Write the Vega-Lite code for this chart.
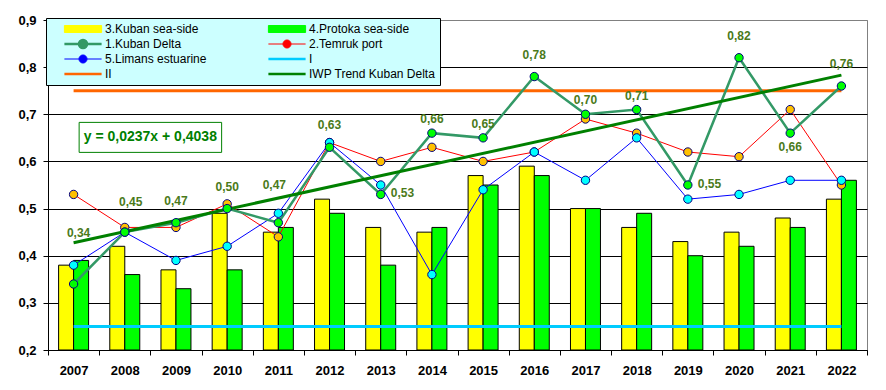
{
  "$schema": "https://vega.github.io/schema/vega-lite/v6.json",
  "width": 819,
  "height": 330,
  "autosize": {"type": "none"},
  "padding": {"left": 48, "top": 20, "right": 19, "bottom": 40},
  "background": "white",
  "config": {
    "font": "Liberation Sans",
    "locale": {"number": {"decimal": ",", "thousands": " ", "grouping": [3], "currency": ["", ""]}},
    "view": {"stroke": "#808080", "strokeWidth": 1}
  },
  "datasets": {
    "bars": [
      {"year": "2007", "series": "3.Kuban sea-side", "value": 0.38},
      {"year": "2008", "series": "3.Kuban sea-side", "value": 0.42},
      {"year": "2009", "series": "3.Kuban sea-side", "value": 0.37},
      {"year": "2010", "series": "3.Kuban sea-side", "value": 0.49},
      {"year": "2011", "series": "3.Kuban sea-side", "value": 0.45},
      {"year": "2012", "series": "3.Kuban sea-side", "value": 0.52},
      {"year": "2013", "series": "3.Kuban sea-side", "value": 0.46},
      {"year": "2014", "series": "3.Kuban sea-side", "value": 0.45},
      {"year": "2015", "series": "3.Kuban sea-side", "value": 0.57},
      {"year": "2016", "series": "3.Kuban sea-side", "value": 0.59},
      {"year": "2017", "series": "3.Kuban sea-side", "value": 0.50},
      {"year": "2018", "series": "3.Kuban sea-side", "value": 0.46},
      {"year": "2019", "series": "3.Kuban sea-side", "value": 0.43},
      {"year": "2020", "series": "3.Kuban sea-side", "value": 0.45},
      {"year": "2021", "series": "3.Kuban sea-side", "value": 0.48},
      {"year": "2022", "series": "3.Kuban sea-side", "value": 0.52},
      {"year": "2007", "series": "4.Protoka sea-side", "value": 0.39},
      {"year": "2008", "series": "4.Protoka sea-side", "value": 0.36},
      {"year": "2009", "series": "4.Protoka sea-side", "value": 0.33},
      {"year": "2010", "series": "4.Protoka sea-side", "value": 0.37},
      {"year": "2011", "series": "4.Protoka sea-side", "value": 0.46},
      {"year": "2012", "series": "4.Protoka sea-side", "value": 0.49},
      {"year": "2013", "series": "4.Protoka sea-side", "value": 0.38},
      {"year": "2014", "series": "4.Protoka sea-side", "value": 0.46},
      {"year": "2015", "series": "4.Protoka sea-side", "value": 0.55},
      {"year": "2016", "series": "4.Protoka sea-side", "value": 0.57},
      {"year": "2017", "series": "4.Protoka sea-side", "value": 0.50},
      {"year": "2018", "series": "4.Protoka sea-side", "value": 0.49},
      {"year": "2019", "series": "4.Protoka sea-side", "value": 0.40},
      {"year": "2020", "series": "4.Protoka sea-side", "value": 0.42},
      {"year": "2021", "series": "4.Protoka sea-side", "value": 0.46},
      {"year": "2022", "series": "4.Protoka sea-side", "value": 0.56}
    ],
    "lines": [
      {"year": "2007", "series": "2.Temruk port", "value": 0.53},
      {"year": "2008", "series": "2.Temruk port", "value": 0.46},
      {"year": "2009", "series": "2.Temruk port", "value": 0.46},
      {"year": "2010", "series": "2.Temruk port", "value": 0.51},
      {"year": "2011", "series": "2.Temruk port", "value": 0.44},
      {"year": "2012", "series": "2.Temruk port", "value": 0.64},
      {"year": "2013", "series": "2.Temruk port", "value": 0.60},
      {"year": "2014", "series": "2.Temruk port", "value": 0.63},
      {"year": "2015", "series": "2.Temruk port", "value": 0.60},
      {"year": "2016", "series": "2.Temruk port", "value": 0.62},
      {"year": "2017", "series": "2.Temruk port", "value": 0.69},
      {"year": "2018", "series": "2.Temruk port", "value": 0.66},
      {"year": "2019", "series": "2.Temruk port", "value": 0.62},
      {"year": "2020", "series": "2.Temruk port", "value": 0.61},
      {"year": "2021", "series": "2.Temruk port", "value": 0.71},
      {"year": "2022", "series": "2.Temruk port", "value": 0.55},
      {"year": "2007", "series": "5.Limans estuarine", "value": 0.38},
      {"year": "2008", "series": "5.Limans estuarine", "value": 0.45},
      {"year": "2009", "series": "5.Limans estuarine", "value": 0.39},
      {"year": "2010", "series": "5.Limans estuarine", "value": 0.42},
      {"year": "2011", "series": "5.Limans estuarine", "value": 0.49},
      {"year": "2012", "series": "5.Limans estuarine", "value": 0.64},
      {"year": "2013", "series": "5.Limans estuarine", "value": 0.55},
      {"year": "2014", "series": "5.Limans estuarine", "value": 0.36},
      {"year": "2015", "series": "5.Limans estuarine", "value": 0.54},
      {"year": "2016", "series": "5.Limans estuarine", "value": 0.62},
      {"year": "2017", "series": "5.Limans estuarine", "value": 0.56},
      {"year": "2018", "series": "5.Limans estuarine", "value": 0.65},
      {"year": "2019", "series": "5.Limans estuarine", "value": 0.52},
      {"year": "2020", "series": "5.Limans estuarine", "value": 0.53},
      {"year": "2021", "series": "5.Limans estuarine", "value": 0.56},
      {"year": "2022", "series": "5.Limans estuarine", "value": 0.56},
      {"year": "2007", "series": "1.Kuban Delta", "value": 0.34},
      {"year": "2008", "series": "1.Kuban Delta", "value": 0.45},
      {"year": "2009", "series": "1.Kuban Delta", "value": 0.47},
      {"year": "2010", "series": "1.Kuban Delta", "value": 0.50},
      {"year": "2011", "series": "1.Kuban Delta", "value": 0.47},
      {"year": "2012", "series": "1.Kuban Delta", "value": 0.63},
      {"year": "2013", "series": "1.Kuban Delta", "value": 0.53},
      {"year": "2014", "series": "1.Kuban Delta", "value": 0.66},
      {"year": "2015", "series": "1.Kuban Delta", "value": 0.65},
      {"year": "2016", "series": "1.Kuban Delta", "value": 0.78},
      {"year": "2017", "series": "1.Kuban Delta", "value": 0.70},
      {"year": "2018", "series": "1.Kuban Delta", "value": 0.71},
      {"year": "2019", "series": "1.Kuban Delta", "value": 0.55},
      {"year": "2020", "series": "1.Kuban Delta", "value": 0.82},
      {"year": "2021", "series": "1.Kuban Delta", "value": 0.66},
      {"year": "2022", "series": "1.Kuban Delta", "value": 0.76}
    ],
    "refs": [
      {"year": "2007", "series": "I", "value": 0.25},
      {"year": "2022", "series": "I", "value": 0.25},
      {"year": "2007", "series": "II", "value": 0.75},
      {"year": "2022", "series": "II", "value": 0.75},
      {"year": "2007", "series": "IWP Trend Kuban Delta", "value": 0.4275},
      {"year": "2022", "series": "IWP Trend Kuban Delta", "value": 0.7830}
    ],
    "eq": [
      {"year": "2008", "value": 0.651, "text": "y = 0,0237x + 0,4038"}
    ]
  },
  "encoding": {
    "x": {
      "field": "year",
      "type": "nominal",
      "scale": {
        "domain": ["2007", "2008", "2009", "2010", "2011", "2012", "2013", "2014", "2015", "2016", "2017", "2018", "2019", "2020", "2021", "2022"],
        "paddingInner": 0,
        "paddingOuter": 0
      },
      "axis": {
        "title": null,
        "orient": "bottom",
        "labelAngle": 0,
        "labelFontWeight": "bold",
        "labelFontSize": 13,
        "labelColor": "black",
        "domainColor": "black",
        "tickColor": "black",
        "tickSize": 5,
        "tickBand": "extent",
        "labelPadding": 9,
        "grid": false,
        "zindex": 1
      }
    },
    "y": {
      "field": "value",
      "type": "quantitative",
      "scale": {"domain": [0.2, 0.9], "nice": false, "zero": false},
      "axis": {
        "title": null,
        "values": [0.2, 0.3, 0.4, 0.5, 0.6, 0.7, 0.8, 0.9],
        "format": ".1f",
        "labelFontWeight": "bold",
        "labelFontSize": 13,
        "labelColor": "black",
        "domainColor": "black",
        "tickColor": "black",
        "tickSize": 5,
        "labelPadding": 7,
        "grid": true,
        "gridColor": {"condition": {"test": "datum.value > 0.85", "value": "#808080"}, "value": "black"},
        "gridWidth": 1
      }
    }
  },
  "layer": [
    {
      "data": {"name": "bars"},
      "mark": {"type": "bar", "stroke": "black", "strokeWidth": 1, "clip": true},
      "encoding": {
        "y2": {"datum": 0.2},
        "xOffset": {
          "field": "series",
          "type": "nominal",
          "scale": {"domain": ["3.Kuban sea-side", "4.Protoka sea-side"], "paddingInner": 0, "paddingOuter": 0.707}
        },
        "color": {
          "field": "series",
          "type": "nominal",
          "scale": {
            "domain": ["3.Kuban sea-side", "1.Kuban Delta", "5.Limans estuarine", "II", "4.Protoka sea-side", "2.Temruk port", "I", "IWP Trend Kuban Delta"],
            "range": ["#ffff00", "#339966", "#0000ff", "#ff6600", "#00ff00", "#ff0000", "#00ccff", "#008000"]
          },
          "legend": {
            "title": null,
            "orient": "none",
            "legendX": -2,
            "legendY": -2,
            "columns": 2,
            "gridAlign": "all",
            "columnPadding": 22,
            "rowPadding": 1,
            "padding": 4,
            "fillColor": "#ccffff",
            "strokeColor": "black",
            "symbolSize": 144,
            "symbolOffset": 27,
            "labelOffset": 16,
            "labelFontSize": 12,
            "labelColor": "black",
            "labelFont": "Liberation Sans",
            "labelLimit": 300,
            "clipHeight": 14,
            "encoding": {
              "symbols": {
                "shape": {"value": {"expr": "indexof(['3.Kuban sea-side','4.Protoka sea-side'], datum.value) >= 0 ? 'M-3.1,-0.58H3.1V0.58H-3.1Z' : (indexof(['1.Kuban Delta','2.Temruk port','5.Limans estuarine'], datum.value) >= 0 ? 'M-3.1,0H-0.67M0.67,0H3.1M-0.67,0A0.67,0.67,0,1,1,0.67,0A0.67,0.67,0,1,1,-0.67,0Z' : 'M-3.1,0H3.1')"}},
                "fill": {"value": {"expr": "datum.value == '3.Kuban sea-side' ? '#ffff00' : (datum.value == '4.Protoka sea-side' ? '#00ff00' : (datum.value == '1.Kuban Delta' ? '#00ff00' : (datum.value == '2.Temruk port' ? '#ffc000' : (datum.value == '5.Limans estuarine' ? '#00ffff' : 'transparent'))))"}},
                "stroke": {"value": {"expr": "indexof(['3.Kuban sea-side','4.Protoka sea-side'], datum.value) >= 0 ? 'black' : (datum.value == '1.Kuban Delta' ? '#339966' : (datum.value == '2.Temruk port' ? '#ff0000' : (datum.value == '5.Limans estuarine' ? '#0000ff' : (datum.value == 'I' ? '#00ccff' : (datum.value == 'II' ? '#ff6600' : '#008000')))))"}},
                "strokeWidth": {"value": {"expr": "indexof(['3.Kuban sea-side','4.Protoka sea-side','2.Temruk port','5.Limans estuarine'], datum.value) >= 0 ? 1 : 2.5"}},
                "opacity": {"value": 1}
              }
            }
          }
        }
      }
    },
    {
      "data": {"name": "refs"},
      "transform": [{"filter": {"field": "series", "oneOf": ["I", "II"]}}],
      "mark": {"type": "line", "strokeWidth": 3},
      "encoding": {
        "color": {"field": "series", "type": "nominal", "legend": null}
      }
    },
    {
      "data": {"name": "lines"},
      "transform": [{"filter": {"field": "series", "oneOf": ["2.Temruk port", "5.Limans estuarine"]}}],
      "mark": {"type": "line", "strokeWidth": 1},
      "encoding": {
        "color": {"field": "series", "type": "nominal", "legend": null}
      }
    },
    {
      "data": {"name": "lines"},
      "transform": [{"filter": {"field": "series", "equal": "1.Kuban Delta"}}],
      "mark": {"type": "line", "strokeWidth": 2.5},
      "encoding": {
        "color": {"field": "series", "type": "nominal", "legend": null}
      }
    },
    {
      "data": {"name": "refs"},
      "transform": [{"filter": {"field": "series", "equal": "IWP Trend Kuban Delta"}}],
      "mark": {"type": "line", "strokeWidth": 3},
      "encoding": {
        "color": {"field": "series", "type": "nominal", "legend": null}
      }
    },
    {
      "data": {"name": "lines"},
      "mark": {"type": "point", "shape": "circle", "filled": true, "size": 70, "stroke": "#000080", "strokeWidth": 1, "opacity": 1},
      "encoding": {
        "fill": {
          "field": "series",
          "type": "nominal",
          "scale": {"domain": ["1.Kuban Delta", "2.Temruk port", "5.Limans estuarine"], "range": ["#00ff00", "#ffc000", "#00ffff"]},
          "legend": null
        }
      }
    },
    {
      "data": {"name": "lines"},
      "transform": [{"filter": {"field": "series", "equal": "1.Kuban Delta"}}, {"filter": {"field": "year", "oneOf": ["2014", "2015", "2017", "2018"]}}],
      "mark": {"type": "text", "fontSize": 12, "fontWeight": "bold", "fill": "#4a7a1a", "baseline": "middle", "dy": -14},
      "encoding": {"text": {"field": "value", "type": "quantitative", "format": ".2f"}}
    },
    {
      "data": {"name": "lines"},
      "transform": [{"filter": {"field": "series", "equal": "1.Kuban Delta"}}, {"filter": {"field": "year", "oneOf": ["2009", "2010", "2012", "2016", "2020", "2022"]}}],
      "mark": {"type": "text", "fontSize": 12, "fontWeight": "bold", "fill": "#4a7a1a", "baseline": "middle", "dy": -22},
      "encoding": {"text": {"field": "value", "type": "quantitative", "format": ".2f"}}
    },
    {
      "data": {"name": "lines"},
      "transform": [{"filter": {"field": "series", "equal": "1.Kuban Delta"}}, {"filter": {"field": "year", "equal": "2008"}}],
      "mark": {"type": "text", "fontSize": 12, "fontWeight": "bold", "fill": "#4a7a1a", "baseline": "middle", "dy": -30, "dx": 6},
      "encoding": {"text": {"field": "value", "type": "quantitative", "format": ".2f"}}
    },
    {
      "data": {"name": "lines"},
      "transform": [{"filter": {"field": "series", "equal": "1.Kuban Delta"}}, {"filter": {"field": "year", "equal": "2011"}}],
      "mark": {"type": "text", "fontSize": 12, "fontWeight": "bold", "fill": "#4a7a1a", "baseline": "middle", "dy": -38, "dx": -4},
      "encoding": {"text": {"field": "value", "type": "quantitative", "format": ".2f"}}
    },
    {
      "data": {"name": "lines"},
      "transform": [{"filter": {"field": "series", "equal": "1.Kuban Delta"}}, {"filter": {"field": "year", "equal": "2007"}}],
      "mark": {"type": "text", "fontSize": 12, "fontWeight": "bold", "fill": "#4a7a1a", "baseline": "middle", "dy": -51, "dx": 5},
      "encoding": {"text": {"field": "value", "type": "quantitative", "format": ".2f"}}
    },
    {
      "data": {"name": "lines"},
      "transform": [{"filter": {"field": "series", "equal": "1.Kuban Delta"}}, {"filter": {"field": "year", "oneOf": ["2013", "2019"]}}],
      "mark": {"type": "text", "fontSize": 12, "fontWeight": "bold", "fill": "#4a7a1a", "baseline": "middle", "align": "left", "dy": -1, "dx": 10},
      "encoding": {"text": {"field": "value", "type": "quantitative", "format": ".2f"}}
    },
    {
      "data": {"name": "lines"},
      "transform": [{"filter": {"field": "series", "equal": "1.Kuban Delta"}}, {"filter": {"field": "year", "equal": "2021"}}],
      "mark": {"type": "text", "fontSize": 12, "fontWeight": "bold", "fill": "#4a7a1a", "baseline": "middle", "dy": 14},
      "encoding": {"text": {"field": "value", "type": "quantitative", "format": ".2f"}}
    },
    {
      "data": {"name": "eq"},
      "mark": {"type": "point", "shape": "M-4.75,-1H4.75V1H-4.75Z", "size": 900, "filled": true, "fill": "white", "stroke": "#008000", "strokeWidth": 1, "opacity": 1},
      "encoding": {
        "x": {"field": "year", "type": "nominal", "bandPosition": 1}
      }
    },
    {
      "data": {"name": "eq"},
      "mark": {"type": "text", "fontSize": 14, "fontWeight": "bold", "fill": "#008000", "baseline": "middle", "align": "center"},
      "encoding": {
        "x": {"field": "year", "type": "nominal", "bandPosition": 1},
        "text": {"field": "text", "type": "nominal"}
      }
    }
  ]
}
